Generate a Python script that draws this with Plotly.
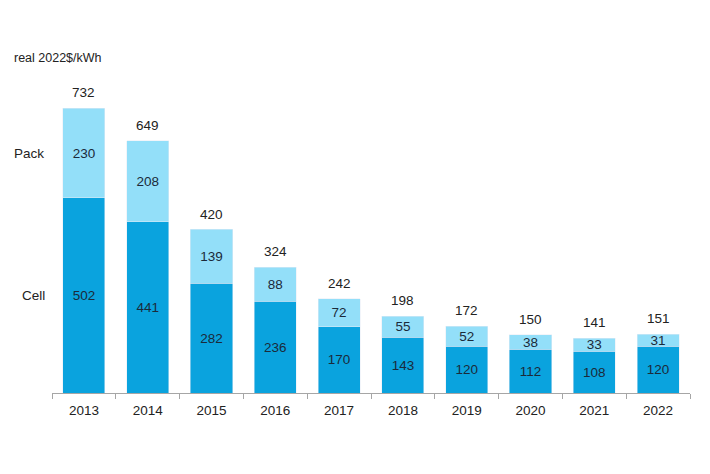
import plotly.graph_objects as go

years = ["2013", "2014", "2015", "2016", "2017", "2018", "2019", "2020", "2021", "2022"]
cell = [502, 441, 282, 236, 170, 143, 120, 112, 108, 120]
pack = [230, 208, 139, 88, 72, 55, 52, 38, 33, 31]
total = [732, 649, 420, 324, 242, 198, 172, 150, 141, 151]

cell_color = "#0aa3de"
pack_color = "#93dff9"
font = "Liberation Sans, Arial, sans-serif"

fig = go.Figure()
fig.add_trace(go.Bar(x=years, y=cell, name="Cell", marker_color=cell_color,
                     text=[str(v) for v in cell], textposition="inside",
                     insidetextanchor="middle", textangle=0, constraintext="none",
                     textfont=dict(color="#1b2a3a", size=13.5, family=font)))
fig.add_trace(go.Bar(x=years, y=pack, name="Pack", marker_color=pack_color,
                     text=[str(v) for v in pack], textposition="inside",
                     insidetextanchor="middle", textangle=0, constraintext="none",
                     textfont=dict(color="#1b2a3a", size=13.5, family=font)))

for i, t in enumerate(total):
    fig.add_annotation(x=i, y=t, xref="x", yref="y", text=str(t), showarrow=False,
                       yanchor="bottom", yshift=6,
                       font=dict(color="#222222", size=13.5, family=font))

fig.update_layout(
    barmode="stack",
    bargap=0.34,
    width=710, height=474,
    margin=dict(l=52, r=20, t=82, b=81),
    paper_bgcolor="white", plot_bgcolor="white",
    showlegend=False,
    font=dict(family=font, color="#222222", size=13),
    uniformtext=dict(minsize=13, mode="show"),
)
fig.update_xaxes(type="category", categoryorder="array", categoryarray=years,
                 range=[-0.5, len(years) - 0.5],
                 showline=True, linecolor="#a6a6a6", linewidth=1,
                 ticks="outside", tickson="boundaries", ticklen=5, tickcolor="#a6a6a6",
                 ticklabelstandoff=5, tickangle=0,
                 tickfont=dict(size=13.5, color="#222222", family=font), showgrid=False)
fig.update_yaxes(range=[0, 800], visible=False, showgrid=False)

fig.add_annotation(text="real 2022$/kWh", xref="paper", yref="paper", x=-0.063, y=1.077,
                   xanchor="left", yanchor="middle", showarrow=False,
                   font=dict(size=12.5, color="#222222", family=font))
fig.add_annotation(text="Pack", xref="paper", yref="y", x=-0.063, y=cell[0] + pack[0] / 2,
                   xanchor="left", yanchor="middle", showarrow=False,
                   font=dict(size=13.5, color="#222222", family=font))
fig.add_annotation(text="Cell", xref="paper", yref="y", x=-0.05, y=cell[0] / 2,
                   xanchor="left", yanchor="middle", showarrow=False,
                   font=dict(size=13.5, color="#222222", family=font))

fig.write_html("out.html")
